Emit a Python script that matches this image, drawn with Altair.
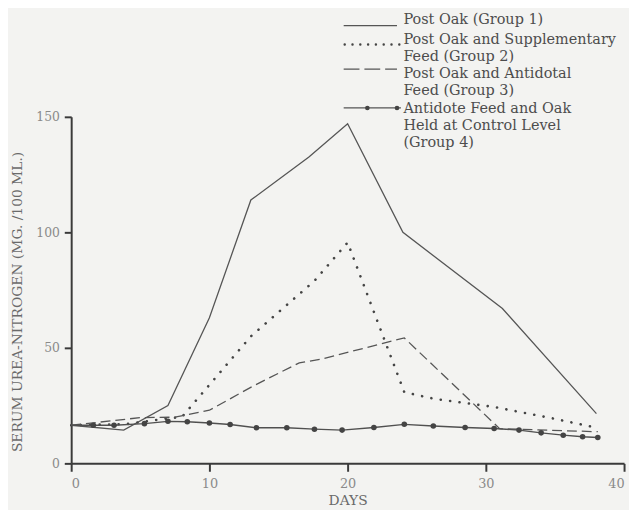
import altair as alt
import pandas as pd

# ---- data ----
g1_days = [0, 3.8, 7, 10, 13, 17.2, 20, 24, 31.2, 38]
g1_vals = [16.5, 14.4, 25, 63, 114, 132.6, 147, 100, 67, 21.5]

g2_days = [0, 4, 7, 8, 13, 17.6, 20, 24.1, 26.3, 30.6, 34.9, 38.1]
g2_vals = [16.5, 17, 19.5, 20, 55, 79, 95.6, 30.8, 27.9, 24.4, 19.4, 15.3]

g3_days = [0, 5, 7.5, 10, 13.2, 16.5, 18, 24.1, 31, 38.1]
g3_vals = [16.5, 19.8, 20, 23, 33.6, 43.5, 45, 54.3, 15, 13.7]

g4_days = [0, 1.6, 3.1, 5.3, 7, 8.4, 10, 11.5, 13.4, 15.6, 17.6, 19.6, 21.9,
           24.1, 26.2, 28.5, 30.6, 32.4, 34, 35.6, 37, 38.1]
g4_vals = [16.5, 16.5, 16.5, 17.2, 18.2, 18, 17.5, 16.8, 15.4, 15.4, 14.8, 14.4,
           15.5, 16.9, 16.2, 15.5, 15.1, 14.4, 13.2, 12.2, 11.5, 11.2]

x_ticks = [0, 10, 20, 30, 40]
y_ticks = [0, 50, 100, 150]

legend_labels = [
    ["Post Oak (Group 1)"],
    ["Post Oak and Supplementary", "Feed (Group 2)"],
    ["Post Oak and Antidotal", "Feed (Group 3)"],
    ["Antidote Feed and Oak", "Held at Control Level", "(Group 4)"],
]

FONT = "DejaVu Serif"
INK = "#4d4d4d"
LINE = "#555555"

W, H = 560, 351

xs = alt.Scale(domain=[0, 40], nice=False, zero=False)
ys = alt.Scale(domain=[0, 150], nice=False)

xax = alt.Axis(values=x_ticks, title="DAYS", grid=False, tickSize=8, tickWidth=2,
               domainWidth=2, domainColor="#3a3a3a", tickColor="#3a3a3a",
               labelColor="#8a8a8a", labelFont=FONT, labelFontSize=13, labelPadding=6,
               titleFont=FONT, titleFontSize=14, titleFontWeight="normal",
               titleColor="#6a6a6a", titleY=38, titleBaseline="middle")
yax = alt.Axis(values=y_ticks, title="SERUM UREA-NITROGEN (MG. /100 ML.)", grid=False,
               tickSize=7, tickWidth=2, domainWidth=2, domainColor="#3a3a3a",
               tickColor="#3a3a3a", labelColor="#8a8a8a", labelFont=FONT,
               labelFontSize=12.5, labelPadding=5,
               titleFont=FONT, titleFontSize=14, titleFontWeight="normal",
               titleColor="#6a6a6a", titleX=-54, titleY=187, titleAlign="center",
               titleBaseline="middle", titleAngle=270)

def df(d, v):
    return pd.DataFrame({"day": d, "val": v})

base_x = alt.X("day:Q", scale=xs, axis=xax)
base_y = alt.Y("val:Q", scale=ys, axis=yax)

l1 = alt.Chart(df(g1_days, g1_vals)).mark_line(color=LINE, strokeWidth=1.3).encode(x=base_x, y=base_y)
l2 = alt.Chart(df(g2_days, g2_vals)).mark_line(color="#444444", strokeWidth=2.6,
        strokeDash=[0.1, 9.5], strokeCap="round").encode(x="day:Q", y="val:Q")
l3 = alt.Chart(df(g3_days, g3_vals)).mark_line(color=LINE, strokeWidth=1.3,
        strokeDash=[10, 5]).encode(x="day:Q", y="val:Q")
l4 = alt.Chart(df(g4_days, g4_vals)).mark_line(color="#505050", strokeWidth=1.4).encode(x="day:Q", y="val:Q")
p4 = alt.Chart(df(g4_days[1:], g4_vals[1:])).mark_circle(color="#444444", opacity=1, size=32).encode(x="day:Q", y="val:Q")

# ---- legend (top right, above the plot) ----
OX, OY = 72, 115  # plot origin in page pixels
def px(x): return x - OX
def py(y): return y - OY

lg = []
lg.append(alt.Chart().mark_rule(color=LINE, strokeWidth=1.3).encode(
    x=alt.value(px(348)), x2=alt.value(px(402)), y=alt.value(py(22.7))))
lg.append(alt.Chart().mark_rule(color="#444444", strokeWidth=2.4, strokeDash=[0.1, 7.8],
    strokeCap="round").encode(x=alt.value(px(349)), x2=alt.value(px(405)), y=alt.value(py(41.7))))
lg.append(alt.Chart().mark_rule(color=LINE, strokeWidth=1.3, strokeDash=[16, 5]).encode(
    x=alt.value(px(348)), x2=alt.value(px(402)), y=alt.value(py(66.7))))
lg.append(alt.Chart().mark_rule(color=LINE, strokeWidth=1.3).encode(
    x=alt.value(px(348)), x2=alt.value(px(406)), y=alt.value(py(106))))
lg.append(alt.Chart().mark_circle(color="#444444", opacity=1, size=22).encode(
    x=alt.value(px(372)), y=alt.value(py(106))))
lg.append(alt.Chart().mark_circle(color="#444444", opacity=1, size=22).encode(
    x=alt.value(px(402)), y=alt.value(py(106))))

LH = 17.5
first_centers = [16.7, 37.3, 71.7, 106.7]
for lab, yc in zip(legend_labels, first_centers):
    for i, line in enumerate(lab):
        lg.append(alt.Chart().mark_text(text=line, font=FONT, fontSize=14.6, color=INK,
            align="left", baseline="middle").encode(
            x=alt.value(px(408.5)), y=alt.value(py(yc + i * LH))))

chart = alt.layer(l1, l2, l3, l4, p4, *lg).properties(
    width=W, height=H,
    padding={"left": 64, "top": 107, "right": 5, "bottom": 44},
    autosize=alt.AutoSizeParams(type="none"),
    background="#f3f3f1",
).configure_view(stroke=None)

chart.save("out.html", embed_options={"renderer": "svg", "actions": False})
